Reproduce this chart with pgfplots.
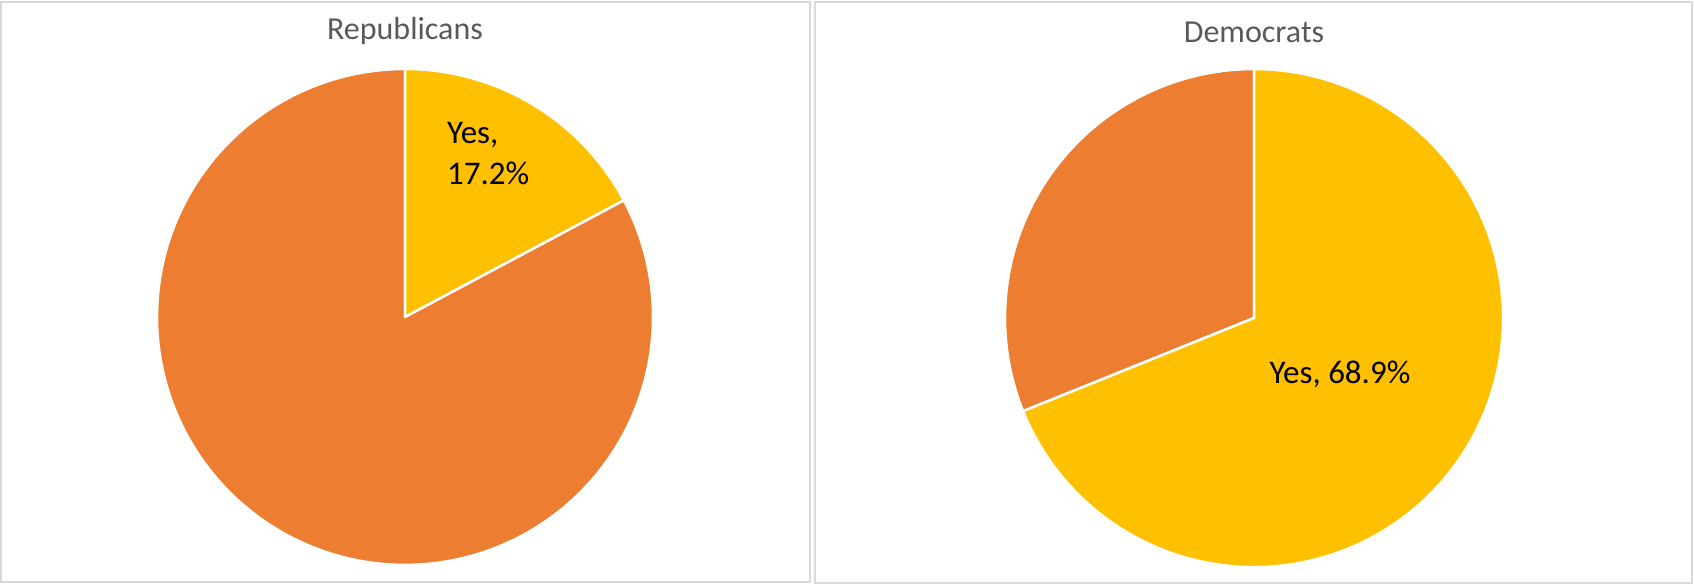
\documentclass[border=0pt]{standalone}
\usepackage{pgfplots}
\pgfplotsset{compat=1.18}
\usepackage{fontspec}
\setmainfont{Carlito}
\definecolor{yesc}{HTML}{FFC000}
\definecolor{noc}{HTML}{ED7D31}
\definecolor{titlec}{HTML}{595959}
\definecolor{framec}{HTML}{D9D9D9}
\pgfplotsset{piebox/.style={
  scale only axis, axis lines=box, ticks=none,
  axis line style={draw=framec, line width=0.5pt},
  clip=false, samples=240,
  every axis plot/.append style={draw=white, line width=0.75pt, line join=round},
}}
\begin{document}
\begin{tikzpicture}
\useasboundingbox (0,0) rectangle (508.2pt,175.2pt);
% Republicans: Yes 17.2%
\begin{axis}[piebox, at={(0.3pt,0.6pt)}, anchor=south west,
  width=242.7pt, height=174pt,
  xmin=-1.629, xmax=1.633, ymin=-1.069, ymax=1.270]
\addplot[fill=noc, domain={-270}:{90-17.2*3.6}] ({cos(x)},{sin(x)}) -- (0,0) -- cycle;
\addplot[fill=yesc, domain={90-17.2*3.6}:90] ({cos(x)},{sin(x)}) -- (0,0) -- cycle;
\node[font=\fontsize{9.6pt}{11pt}\selectfont, text=titlec] at (axis cs:0,1.152) {Republicans};
\node[font=\fontsize{9.9pt}{12.3pt}\selectfont, align=left, text=black] at (axis cs:0.335,0.66) {Yes,\\17.2\%};
\end{axis}
% Democrats: Yes 68.9%
\begin{axis}[piebox, at={(244.5pt,0.3pt)}, anchor=south west,
  width=263.1pt, height=174.3pt,
  xmin=-1.763, xmax=1.759, ymin=-1.064, ymax=1.269]
\addplot[fill=noc, domain={-270}:{90-68.9*3.6}] ({cos(x)},{sin(x)}) -- (0,0) -- cycle;
\addplot[fill=yesc, domain={90-68.9*3.6}:90] ({cos(x)},{sin(x)}) -- (0,0) -- cycle;
\node[font=\fontsize{9.6pt}{11pt}\selectfont, text=titlec] at (axis cs:0,1.148) {Democrats};
\node[font=\fontsize{9.9pt}{11pt}\selectfont, text=black] at (axis cs:0.345,-0.225) {Yes, 68.9\%};
\end{axis}
\end{tikzpicture}
\end{document}
